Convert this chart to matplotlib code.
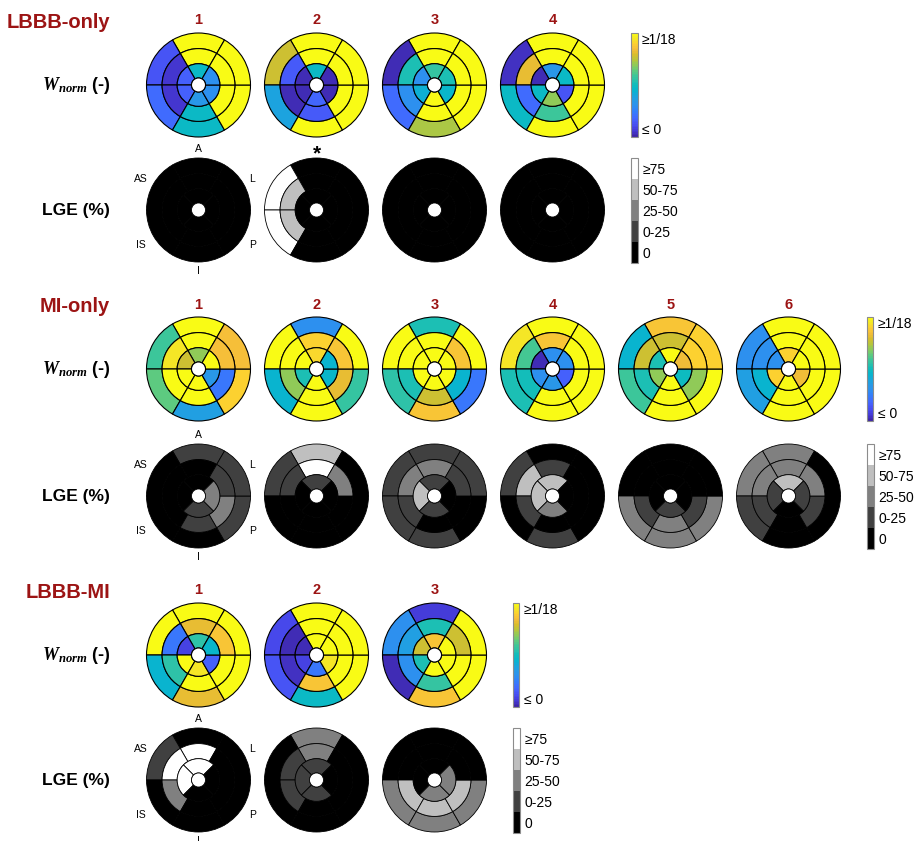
import matplotlib
matplotlib.use("Agg")
import matplotlib.pyplot as plt
from matplotlib.patches import Wedge, Circle
from matplotlib.colors import LinearSegmentedColormap, ListedColormap, BoundaryNorm, Normalize
from matplotlib.cm import ScalarMappable

plt.rcParams['font.family'] = ['Liberation Sans', 'DejaVu Sans']
plt.rcParams['mathtext.fontset'] = 'custom'
plt.rcParams['mathtext.it'] = 'Liberation Serif:italic:bold'
plt.rcParams['mathtext.rm'] = 'Liberation Serif:bold'

# ---------------------------------------------------------------------------
# Work density W_norm, in units of 1/18 (1.0 = uniform share of 18 segments).
# Each patient: [basal, mid, apical] rings; segments A, AS, IS, I, P, L.
# ---------------------------------------------------------------------------
W_LBBB_ONLY = [
    [[1.00, 0.13, 0.19, 0.48, 1.00, 1.00],
     [1.00, 0.05, 0.05, 0.48, 1.00, 1.00],
     [0.47, 0.17, 0.17, 0.34, 0.30, 0.30]],
    [[1.00, 0.77, 0.38, 1.00, 1.00, 1.00],
     [1.00, 0.15, 0.02, 0.15, 1.00, 1.00],
     [0.47, 0.02, 0.02, 0.18, 0.03, 0.03]],
    [[1.00, 0.02, 0.20, 0.72, 1.00, 1.00],
     [1.00, 0.53, 0.30, 1.00, 1.00, 1.00],
     [0.57, 0.30, 0.43, 1.00, 0.46, 0.52]],
    [[1.00, 0.04, 0.48, 1.00, 1.00, 1.00],
     [1.00, 0.82, 0.20, 0.58, 1.00, 1.00],
     [0.34, 0.02, 0.48, 0.70, 0.13, 0.47]],
]
W_MI_ONLY = [
    [[1.00, 0.58, 0.63, 0.37, 0.90, 0.85],
     [1.00, 0.94, 1.00, 1.00, 0.22, 0.85],
     [0.70, 0.77, 1.00, 1.00, 0.33, 1.00]],
    [[0.30, 1.00, 0.44, 1.00, 0.57, 1.00],
     [0.90, 1.00, 0.70, 1.00, 0.82, 0.86],
     [0.92, 1.00, 0.52, 1.00, 0.46, 0.44]],
    [[0.53, 1.00, 0.56, 0.87, 0.22, 1.00],
     [1.00, 1.00, 0.52, 0.77, 0.44, 0.86],
     [1.00, 1.00, 1.00, 1.00, 1.00, 1.00]],
    [[1.00, 0.94, 0.52, 1.00, 1.00, 1.00],
     [0.87, 0.60, 0.51, 1.00, 1.00, 1.00],
     [0.30, 0.03, 0.31, 0.33, 0.17, 0.30]],
    [[0.87, 0.44, 0.58, 1.00, 1.00, 0.90],
     [0.77, 0.77, 0.52, 1.00, 0.70, 0.90],
     [1.00, 0.53, 0.70, 1.00, 0.49, 0.83]],
    [[1.00, 0.30, 0.37, 1.00, 1.00, 1.00],
     [1.00, 0.30, 0.44, 1.00, 1.00, 1.00],
     [0.90, 0.30, 0.90, 1.00, 0.83, 1.00]],
]
W_LBBB_MI = [
    [[1.00, 1.00, 0.44, 0.82, 1.00, 1.00],
     [0.82, 0.22, 0.56, 1.00, 1.00, 0.87],
     [0.56, 0.08, 1.00, 0.94, 0.17, 0.46]],
    [[1.00, 0.10, 0.14, 0.48, 1.00, 1.00],
     [1.00, 0.03, 0.04, 0.87, 1.00, 1.00],
     [1.00, 0.03, 0.08, 0.22, 0.94, 1.00]],
    [[0.07, 0.30, 0.03, 0.87, 1.00, 1.00],
     [0.52, 0.37, 0.30, 0.57, 1.00, 0.77],
     [0.87, 0.77, 0.52, 1.00, 1.00, 1.00]],
]

# ---------------------------------------------------------------------------
# LGE transmurality class: 0 = 0 %, 1 = 0-25 %, 2 = 25-50 %, 3 = 50-75 %, 4 = >=75 %
# Basal/mid rings: A, AS, IS, I, P, L;  apical ring: A, S, I, L
# ---------------------------------------------------------------------------
LGE_LBBB_ONLY = [
    [[0, 0, 0, 0, 0, 0], [0, 0, 0, 0, 0, 0], [0, 0, 0, 0]],
    [[0, 4, 4, 0, 0, 0], [0, 3, 3, 0, 0, 0], [0, 0, 0, 0]],
    [[0, 0, 0, 0, 0, 0], [0, 0, 0, 0, 0, 0], [0, 0, 0, 0]],
    [[0, 0, 0, 0, 0, 0], [0, 0, 0, 0, 0, 0], [0, 0, 0, 0]],
]
LGE_MI_ONLY = [
    [[1, 0, 0, 0, 1, 1], [0, 0, 0, 1, 2, 1], [0, 0, 1, 2]],
    [[3, 1, 0, 0, 0, 0], [4, 1, 0, 0, 0, 2], [1, 0, 0, 0]],
    [[1, 1, 1, 1, 0, 1], [2, 2, 1, 0, 0, 1], [1, 3, 1, 0]],
    [[0, 1, 0, 1, 0, 0], [1, 3, 1, 0, 0, 0], [3, 3, 2, 0]],
    [[0, 0, 2, 2, 2, 0], [0, 0, 1, 2, 1, 0], [0, 0, 1, 0]],
    [[2, 2, 1, 0, 0, 0], [2, 2, 1, 0, 1, 2], [3, 1, 0, 1]],
]
LGE_LBBB_MI = [
    [[0, 1, 0, 0, 0, 0], [4, 4, 2, 0, 0, 0], [4, 4, 0, 0]],
    [[2, 0, 0, 0, 0, 0], [2, 1, 1, 0, 0, 0], [1, 1, 1, 0]],
    [[0, 0, 2, 2, 2, 0], [0, 0, 3, 3, 3, 0], [0, 0, 2, 2]],
]

GROUP_TITLES = ['LBBB-only', 'MI-only', 'LBBB-MI']
LGE_CLASS_LABELS = ['0', '0-25', '25-50', '50-75', '\u226575']
W_TICK_LABELS = ['\u2264 0', '\u22651/18']
DIRECTION_LABELS = ['A', 'AS', 'L', 'IS', 'P', 'I']
W_MAX = 1.0 / 18.0

# ---------------------------------------------------------------------------
# Colour maps
# ---------------------------------------------------------------------------
_parula_pts = [
    (0.2422, 0.1504, 0.6603), (0.2670, 0.2160, 0.8200), (0.2780, 0.2908, 0.9341),
    (0.2752, 0.3642, 0.9852), (0.2453, 0.4332, 0.9964), (0.1966, 0.5044, 0.9784),
    (0.1762, 0.5646, 0.9374), (0.1507, 0.6083, 0.8983), (0.0855, 0.6587, 0.8572),
    (0.0280, 0.7100, 0.8079), (0.0564, 0.7363, 0.7403), (0.1718, 0.7597, 0.6685),
    (0.2560, 0.7798, 0.5840), (0.4127, 0.7957, 0.4663), (0.5703, 0.7935, 0.3412),
    (0.7339, 0.7692, 0.2224), (0.8603, 0.7421, 0.1718), (0.9587, 0.7387, 0.2293),
    (0.9907, 0.8105, 0.1913), (0.9606, 0.8994, 0.1526), (0.9769, 0.9839, 0.0805),
]
parula = LinearSegmentedColormap.from_list('parula', _parula_pts, N=64)
w_norm = Normalize(vmin=0.0, vmax=W_MAX, clip=True)

lge_cmap = ListedColormap(['#000000', '#404040', '#808080', '#bfbfbf', '#ffffff'])
lge_norm = BoundaryNorm([0, 1, 2, 3, 4, 5], lge_cmap.N)

DARK_RED = '#9c1414'

# ---------------------------------------------------------------------------
# Figure and pixel-based layout helpers
# ---------------------------------------------------------------------------
FW, FH = 919, 841
fig = plt.figure(figsize=(FW / 100, FH / 100), dpi=100)


def rect(x0, y0, w, h):
    return [x0 / FW, 1 - (y0 + h) / FH, w / FW, h / FH]


def ftext(x, y, s, **kw):
    return fig.text(x / FW, 1 - y / FH, s, **kw)


R_PX = 52.0
RADII = [0.135, 0.41, 0.70, 1.0]   # hole, apical/mid, mid/basal, outer


def bullseye(cx, cy, rings, colour_fn, lw):
    half = R_PX + 4
    ax = fig.add_axes(rect(cx - half, cy - half, 2 * half, 2 * half))
    lim = half / R_PX
    ax.set_xlim(-lim, lim)
    ax.set_ylim(-lim, lim)
    ax.set_aspect('equal')
    ax.axis('off')
    bounds = [(RADII[2], RADII[3]), (RADII[1], RADII[2]), (RADII[0], RADII[1])]
    for vals, (r_in, r_out) in zip(rings, bounds):
        n = len(vals)
        step = 360.0 / n
        start = 45.0 if n == 4 else 60.0
        for k, v in enumerate(vals):
            th1 = start + k * step
            ax.add_patch(Wedge((0, 0), r_out, th1, th1 + step, width=r_out - r_in,
                               facecolor=colour_fn(v), edgecolor='black',
                               linewidth=lw, joinstyle='round'))
    ax.add_patch(Circle((0, 0), RADII[0], facecolor='white', edgecolor='black',
                        linewidth=lw))
    return ax


def style_colorbar(cb):
    cb.ax.minorticks_off()
    cb.ax.tick_params(which='both', length=0, width=0, pad=3, labelsize=10)
    cb.outline.set_edgecolor('#8c8c8c')
    cb.outline.set_linewidth(0.8)


COL_X = [198.5, 316.5, 434.5, 552.5, 670.5, 788.5]

groups = [
    dict(title=GROUP_TITLES[0], w=W_LBBB_ONLY, lge=LGE_LBBB_ONLY,
         y_title=22, y_num=20, y_w=85, y_l=210),
    dict(title=GROUP_TITLES[1], w=W_MI_ONLY, lge=LGE_MI_ONLY,
         y_title=307, y_num=305, y_w=369, y_l=496),
    dict(title=GROUP_TITLES[2], w=W_LBBB_MI, lge=LGE_LBBB_MI,
         y_title=592, y_num=590, y_w=655, y_l=780),
]

for g in groups:
    n = len(g['w'])
    ftext(110, g['y_title'], g['title'], ha='right', va='center',
          fontsize=14.5, fontweight='bold', color=DARK_RED)
    ftext(110, g['y_w'] + 5, r'$W_{norm}$ (-)', ha='right', va='baseline',
          fontsize=13, fontweight='bold')
    ftext(110, g['y_l'] + 5, 'LGE (%)', ha='right', va='baseline',
          fontsize=12.5, fontweight='bold')

    for i in range(n):
        cx = COL_X[i]
        ftext(cx, g['y_num'], str(i + 1), ha='center', va='center',
              fontsize=10.5, fontweight='bold', color=DARK_RED)
        bullseye(cx, g['y_w'], g['w'][i],
                 lambda v: parula(w_norm(v * W_MAX)), lw=0.8)
        bullseye(cx, g['y_l'], g['lge'][i],
                 lambda v: lge_cmap(int(v)), lw=0.6)

    # orientation labels around the first LGE bullseye
    cx, cy = COL_X[0], g['y_l']
    offs = [(0, -61), (-58, -31), (54, -31), (-58, 35), (54, 35), (0, 61)]
    for lab, (dx, dy) in zip(DIRECTION_LABELS, offs):
        ftext(cx + dx, cy + dy, lab, ha='center', va='center', fontsize=7.5)

    # colour bars
    cb_x = COL_X[n - 1] + R_PX + 26.5
    cax = fig.add_axes(rect(cb_x, g['y_w'] - R_PX, 6.5, 2 * R_PX))
    cb = fig.colorbar(ScalarMappable(norm=w_norm, cmap=parula), cax=cax,
                      ticks=[0, W_MAX])
    cb.ax.set_yticklabels(W_TICK_LABELS)
    style_colorbar(cb)
    labs = cb.ax.get_yticklabels()
    labs[0].set_va('bottom')
    labs[1].set_va('top')

    lax = fig.add_axes(rect(cb_x, g['y_l'] - R_PX, 7, 2 * R_PX + 1))
    lcb = fig.colorbar(ScalarMappable(norm=lge_norm, cmap=lge_cmap), cax=lax,
                       ticks=[0.5, 1.5, 2.5, 3.5, 4.5], drawedges=False)
    lcb.ax.set_yticklabels(LGE_CLASS_LABELS)
    style_colorbar(lcb)

# significance marker above LBBB-only patient 2
ftext(COL_X[1], 154, '*', ha='center', va='center', fontsize=15, fontweight='bold')

fig.savefig('out.png', dpi=100)
